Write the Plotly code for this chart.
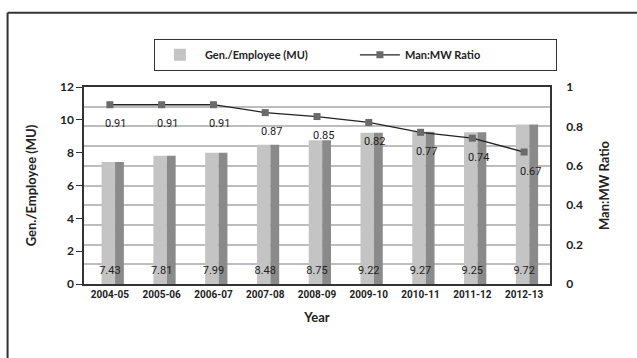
import plotly.graph_objects as go

years = ["2004-05", "2005-06", "2006-07", "2007-08", "2008-09",
         "2009-10", "2010-11", "2011-12", "2012-13"]
gen_per_employee = [7.43, 7.81, 7.99, 8.48, 8.75, 9.22, 9.27, 9.25, 9.72]
man_mw_ratio = [0.91, 0.91, 0.91, 0.87, 0.85, 0.82, 0.77, 0.74, 0.67]
left_ticks = [0, 2, 4, 6, 8, 10, 12]
right_ticks = [0, 0.2, 0.4, 0.6, 0.8, 1]

FONT = "Lato, 'Open Sans', DejaVu Sans, sans-serif"
NARROW = "'Liberation Sans Narrow', 'Arial Narrow', Roboto, sans-serif"

fig = go.Figure()

# cylinder-like bars: light left half + darker right half
fig.add_trace(go.Bar(
    x=years, y=gen_per_employee, name="Gen./Employee (MU)",
    width=0.26, offset=-0.16,
    marker=dict(color="#c4c4c4", line=dict(width=0)),
    showlegend=True, legendrank=1,
    hoverinfo="skip",
))
fig.add_trace(go.Bar(
    x=years, y=gen_per_employee, name="Gen./Employee (MU)",
    width=0.17, offset=0.10,
    marker=dict(color="#8a8a8a", line=dict(width=0)),
    showlegend=False,
))
# labels at the bottom of the bars
fig.add_trace(go.Scatter(
    x=years, y=[0.75] * len(years), mode="text",
    text=[f"{v:.2f}" for v in gen_per_employee],
    textfont=dict(family=NARROW, size=11, color="#222"),
    showlegend=False, hoverinfo="skip",
))

fig.add_trace(go.Scatter(
    x=years, y=man_mw_ratio, name="Man:MW Ratio", yaxis="y2",
    mode="lines+markers",
    line=dict(color="#222222", width=1.3),
    marker=dict(symbol="square", size=7, color="#6a6a6a"),
    legendrank=2,
))

for yr, v in zip(years, man_mw_ratio):
    fig.add_annotation(
        x=yr, y=v, yref="y2", text=f"{v:.2f}", showarrow=False,
        xshift=6, yshift=-19,
        font=dict(family=NARROW, size=11, color="#222"),
    )

fig.update_layout(
    width=637, height=358,
    margin=dict(l=84, r=87, t=87, b=74),
    paper_bgcolor="white", plot_bgcolor="white",
    barmode="overlay",
    font=dict(family=FONT, color="#222"),
    legend=dict(
        orientation="h", x=0.582, xanchor="center", y=1.162, yanchor="middle",
        bordercolor="#333", borderwidth=1.2,
        font=dict(family=FONT, size=11, color="#222", weight="bold"),
        entrywidth=145, entrywidthmode="pixels", itemwidth=40,
    ),
    xaxis=dict(
        type="category", showgrid=False,
        showline=True, linecolor="#333", linewidth=1.5, mirror=True,
        tickfont=dict(family=NARROW, size=10, color="#222", weight="bold"),
        ticks="", title=dict(text="Year", font=dict(size=13, weight="bold"), standoff=14),
        range=[-0.5, 8.5],
    ),
    yaxis=dict(
        range=[0, 12], tickvals=left_ticks, showgrid=False, zeroline=False,
        showline=True, linecolor="#333", linewidth=1.5,
        ticks="outside", ticklen=6, tickcolor="#333",
        tickfont=dict(size=12, color="#222", weight="bold"),
        title=dict(text="Gen./Employee (MU)", font=dict(size=13, weight="bold"), standoff=20),
    ),
    yaxis2=dict(
        overlaying="y", side="right", range=[0, 1], tickvals=right_ticks,
        showgrid=True, gridcolor="#bdbdbd", gridwidth=1.5,
        minor=dict(dtick=0.1, showgrid=True, gridcolor="#bdbdbd", gridwidth=1.5),
        zeroline=False, showline=True, linecolor="#333", linewidth=1.5,
        ticks="", ticklabelstandoff=12,
        tickfont=dict(size=12, color="#222", weight="bold"),
        title=dict(text="Man:MW Ratio", font=dict(size=13, weight="bold"), standoff=18),
    ),
    shapes=[
        dict(type="line", xref="paper", yref="paper", x0=-0.164, x1=1.2,
             y0=1.377, y1=1.377, line=dict(color="#333", width=2)),
        dict(type="line", xref="paper", yref="paper", x0=-0.164, x1=-0.164,
             y0=1.377, y1=-0.4, line=dict(color="#333", width=2)),
    ],
)

fig.write_html("out.html")
